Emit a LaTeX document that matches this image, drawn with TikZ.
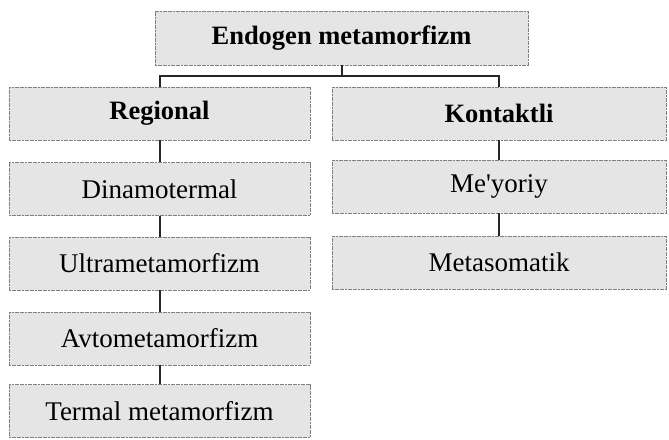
\documentclass[tikz,border=0pt]{standalone}
\usepackage{fontspec}
\setmainfont{Liberation Serif}[Ligatures=TeXOff]
\begin{document}
\begin{tikzpicture}[x=1pt,y=-1pt,
  box/.style={rectangle, fill=black!10, draw=black!50, line width=0.8pt,
    dash pattern=on 2pt off 0.6pt, inner sep=0pt, font=\fontsize{27}{30}\selectfont},
  lbox/.style={box, minimum width=301pt, minimum height=53pt},
  rbox/.style={box, minimum width=334pt, minimum height=53pt},
  head/.style={font=\fontsize{26.5}{30}\selectfont\bfseries},
  conn/.style={draw=black!85, line width=2pt}]
\useasboundingbox (0,0) rectangle (669,439);
\node[box, head, minimum width=373pt, minimum height=54pt] (top) at (341.5,38) {Endogen metamorfizm};
\node[lbox, head] (reg) at (159.5,113.5) {Regional};
\node[lbox] (din) at (159.5,189) {Dinamotermal};
\node[lbox] (ult) at (159.5,263.5) {Ultrametamorfizm};
\node[lbox] (avt) at (159.5,338.5) {Avtometamorfizm};
\node[lbox] (ter) at (159.5,411) {Termal metamorfizm};
\node[rbox, head] (kon) at (499,113.5) {Kontaktli};
\node[rbox] (mey) at (499,186.5) {Me'yoriy};
\node[rbox] (met) at (499,262.5) {Metasomatik};
\coordinate (hl) at (160,76);
\draw[conn] (top.south) -- (top.south |- hl);
\draw[conn] (reg.north) -- (reg.north |- hl) -| (kon.north);
\draw[conn] (reg) -- (din);
\draw[conn] (din) -- (ult);
\draw[conn] (ult) -- (avt);
\draw[conn] (avt) -- (ter);
\draw[conn] (kon) -- (mey);
\draw[conn] (mey) -- (met);
\end{tikzpicture}
\end{document}
